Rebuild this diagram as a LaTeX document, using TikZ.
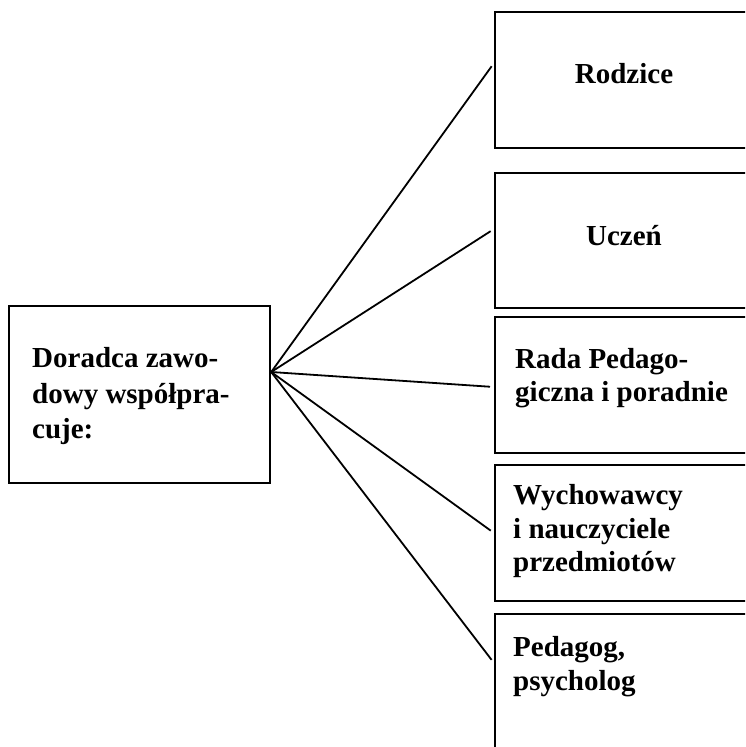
\documentclass[tikz,border=0pt]{standalone}
\usepackage{fontspec}
\setmainfont{Liberation Serif}
\usetikzlibrary{calc}
\begin{document}
\begin{tikzpicture}[x=1pt,y=-1pt,
  box/.style={draw=black, line width=2.2pt, rectangle, inner sep=0pt, anchor=north west},
  lbl/.style={font=\fontsize{29}{34}\selectfont\bfseries, inner sep=0pt, anchor=base west, text=black},
  clbl/.style={lbl, anchor=base},
  link/.style={line width=1.8pt, draw=black, shorten >=4pt}]
\useasboundingbox (0,0) rectangle (745,747);
\fill[white] (0,0) rectangle (745,747);
\clip (0,0) rectangle (745,747);
% left box
\node[box, minimum width=261pt, minimum height=177pt] (L) at (8,305) {};
% right boxes
\node[box, minimum width=270pt, minimum height=136pt] (B1) at (494,11) {};
\node[box, minimum width=270pt, minimum height=135pt] (B2) at (494,172) {};
\node[box, minimum width=270pt, minimum height=136pt] (B3) at (494,316) {};
\node[box, minimum width=270pt, minimum height=136pt] (B4) at (494,464) {};
\node[box, minimum width=270pt, minimum height=170pt] (B5) at (494,613) {};
% texts
\node[lbl] (l1) at (32,367) {Doradca zawo-};
\node[lbl] (l2) at (32,403) {dowy współpra-};
\node[lbl] (l3) at (32,438) {cuje:};
\node[clbl] (r1) at (624,83) {Rodzice};
\node[clbl] (r2) at (624,245) {Uczeń};
\node[lbl] (r3a) at (515,368) {Rada Pedago-};
\node[lbl] (r3b) at (515,401) {giczna i poradnie};
\node[lbl] (r4a) at (513,504) {Wychowawcy};
\node[lbl] (r4b) at (513,538) {i nauczyciele};
\node[lbl] (r4c) at (513,571) {przedmiotów};
\node[lbl] (r5a) at (513,656) {Pedagog,};
\node[lbl] (r5b) at (513,690) {psycholog};
% connectors
\coordinate (c) at ($(L.north east)+(0,67)$);
\coordinate (e1) at ($(B1.north west)+(0,52)$);
\coordinate (e2) at ($(B2.north west)+(0,57)$);
\coordinate (e3) at ($(B3.north west)+(0,71)$);
\coordinate (e4) at ($(B4.north west)+(0,69)$);
\coordinate (e5) at ($(B5.north west)+(0,50)$);
\foreach \e in {e1,e2,e3,e4,e5} \draw[link] (c) -- (\e);
\end{tikzpicture}
\end{document}
